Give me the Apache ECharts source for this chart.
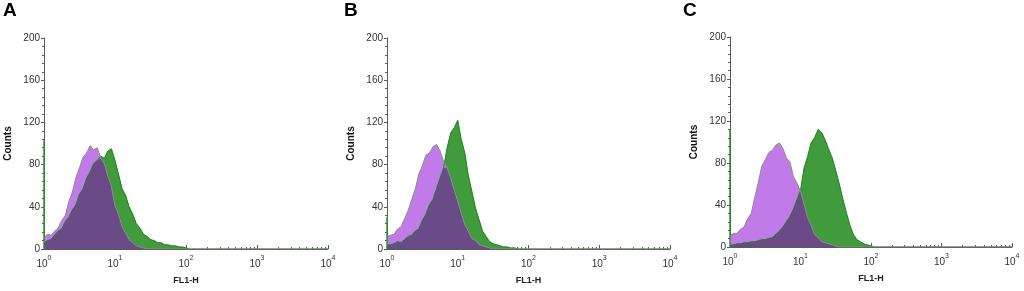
<!DOCTYPE html>
<html>
<head>
<meta charset="utf-8">
<script src="https://cdn.jsdelivr.net/npm/echarts@6/dist/echarts.min.js"></script>
<style>
  html, body { margin: 0; background: #fff; }
  #main { width: 1024px; height: 291px; }
</style>
</head>
<body>
<div id="main"></div>
<script>
// FL1-H bin centres (log spaced), last one closes the histogram at 10^4
const fl1Bins = [1.00, 1.12, 1.26, 1.41, 1.58, 1.78, 2.00, 2.24, 2.51, 2.82, 3.16, 3.55, 3.98, 4.47, 5.01, 5.62, 6.31, 7.08, 7.94, 8.91,
  10.0, 11.2, 12.6, 14.1, 15.8, 17.8, 20.0, 22.4, 25.1, 28.2, 31.6, 35.5, 39.8, 44.7, 50.1, 56.2, 63.1, 70.8, 79.4, 89.1, 100, 112, 126, 10000];

// panel A
const ctrlA = [11, 14, 13, 17, 20, 27, 32, 45, 54, 68, 77, 87, 91, 98, 94, 96, 86, 81, 69, 59, 41, 33, 21, 15, 9, 6, 3, 2, 1, 0,
  0, 0, 0, 0, 0, 0, 0, 0, 0, 0, 0, 0, 0, 0];
const trtA = [6, 8, 9, 13, 17, 19, 26, 30, 37, 42, 52, 57, 67, 73, 81, 84, 88, 86, 93, 95, 84, 71, 57, 51, 40, 33, 24, 20, 14, 12,
  9, 8, 6, 6, 4, 4, 3, 3, 2, 2, 1, 0, 0, 0];
// panel B
const ctrlB = [12, 13, 14, 19, 21, 29, 37, 47, 57, 71, 79, 89, 91, 97, 99, 93, 83, 77, 67, 56, 45, 34, 23, 17, 10, 8, 4, 3, 2, 1,
  0, 0, 0, 0, 0, 0, 0, 0, 0, 0, 0, 0, 0, 0];
const trtB = [4, 4, 5, 7, 6, 9, 12, 13, 17, 19, 27, 33, 42, 47, 57, 67, 77, 96, 110, 115, 122, 104, 91, 70, 55, 39, 28, 17, 12, 7,
  5, 4, 3, 2, 2, 1, 1, 0, 0, 0, 0, 0, 0, 0];
// panel C
const ctrlC = [11, 13, 13, 17, 19, 27, 32, 47, 61, 77, 83, 90, 92, 97, 99, 94, 85, 81, 67, 61, 53, 41, 28, 21, 12, 9, 5, 4, 3, 2,
  1, 0, 0, 0, 0, 0, 0, 0, 0, 0, 0, 0, 0, 0];
const trtC = [2, 2, 3, 3, 4, 4, 5, 5, 6, 7, 7, 8, 9, 12, 15, 19, 24, 29, 36, 45, 54, 75, 86, 99, 104, 112, 109, 102, 93, 85,
  73, 60, 46, 33, 21, 12, 7, 5, 3, 2, 1, 0, 0, 0];

// first-channel pile-up of the treated sample (counts at FL1-H = 10^0)
const trtPileup = [103, 30, 112];

const panels = [
  { tag: 'A', ctrl: ctrlA, trt: trtA, left: 44, width: 284, top: 38, height: 211, tagX: 3 },
  { tag: 'B', ctrl: ctrlB, trt: trtB, left: 387, width: 283, top: 38, height: 211, tagX: 344 },
  { tag: 'C', ctrl: ctrlC, trt: trtC, left: 730, width: 282, top: 37, height: 210, tagX: 683 }
];

// 2..9 in every decade
let minorTicks = [];
[1, 10, 100, 1000].forEach(d => {
  for (let k = 2; k <= 9; k++) minorTicks.push(k * d);
});

const axisColor = '#5a5a5a';
const colTrt = '#3f9b3c';
const colCtrl = '#c17be9';
const colBoth = '#6b4a88';

let grid = [], xAxis = [], yAxis = [], series = [], graphic = [];

panels.forEach((p, i) => {
  grid.push({ left: p.left, width: p.width, top: p.top, height: p.height });

  xAxis.push({
    gridIndex: i, type: 'log', logBase: 10, min: 1, max: 10000,
    name: 'FL1-H', nameLocation: 'middle', nameGap: 27,
    nameTextStyle: { fontFamily: 'Liberation Sans', fontWeight: 'bold', fontSize: 9, color: '#222' },
    axisLine: { lineStyle: { color: axisColor, width: 1 } },
    axisTick: { inside: true, length: 4, lineStyle: { color: axisColor } },
    splitLine: { show: false },
    axisLabel: {
      margin: 6,
      formatter: v => '{b|10}{s|' + Math.round(Math.log10(v)) + '}',
      rich: {
        b: { fontFamily: 'Liberation Sans', fontSize: 10, color: '#333', lineHeight: 14, verticalAlign: 'bottom' },
        s: { fontFamily: 'Liberation Sans', fontSize: 7, color: '#333', lineHeight: 14, verticalAlign: 'top' }
      }
    }
  });
  // minor ticks only
  xAxis.push({
    gridIndex: i, type: 'log', logBase: 10, min: 1, max: 10000, position: 'bottom',
    axisLine: { show: false },
    axisTick: { inside: true, length: 2, customValues: minorTicks, lineStyle: { color: axisColor } },
    axisLabel: { show: false },
    splitLine: { show: false }
  });

  yAxis.push({
    gridIndex: i, type: 'value', min: 0, max: 200, interval: 40,
    name: 'Counts', nameLocation: 'middle', nameGap: 31,
    nameTextStyle: { fontFamily: 'Liberation Sans', fontWeight: 'bold', fontSize: 10, color: '#111' },
    axisLine: { show: true, lineStyle: { color: axisColor, width: 1 } },
    axisTick: { show: true, length: 3, lineStyle: { color: axisColor } },
    minorTick: { show: true, splitNumber: 5, length: 2, lineStyle: { color: axisColor } },
    splitLine: { show: false },
    axisLabel: { fontFamily: 'Liberation Sans', fontSize: 10, color: '#333', margin: 4 }
  });

  const trtData = fl1Bins.map((x, j) => [x, p.trt[j]]);
  const ctrlData = fl1Bins.map((x, j) => [x, p.ctrl[j]]);
  const bothData = fl1Bins.map((x, j) => [x, Math.min(p.trt[j], p.ctrl[j])]);

  const base = { type: 'line', xAxisIndex: i * 2, yAxisIndex: i, symbol: 'none', silent: true };
  series.push(Object.assign({}, base, {
    name: 'treated ' + p.tag, data: trtData,
    lineStyle: { color: '#1f7f1f', width: 1 },
    areaStyle: { color: colTrt, opacity: 1 }
  }));
  series.push(Object.assign({}, base, {
    name: 'control ' + p.tag, data: ctrlData,
    lineStyle: { color: '#8c8c8c', width: 1 },
    areaStyle: { color: colCtrl, opacity: 1 }
  }));
  series.push(Object.assign({}, base, {
    name: 'overlap ' + p.tag, data: bothData,
    lineStyle: { width: 0 },
    areaStyle: { color: colBoth, opacity: 1 },
    // pile-up in the first channel, drawn along the y axis
    markLine: {
      silent: true, symbol: 'none', label: { show: false },
      lineStyle: { color: '#2f8f2a', width: 1.5, type: 'solid' },
      data: [[{ coord: [1, 0] }, { coord: [1, trtPileup[i]] }]]
    }
  }));

  graphic.push({
    type: 'text', left: p.tagX, top: 1,
    style: { text: p.tag, font: 'bold 19px "Liberation Sans"', fill: '#000' }
  });
});

const chart = echarts.init(document.getElementById('main'), null, { renderer: 'canvas' });
chart.setOption({
  backgroundColor: '#fff',
  animation: false,
  grid: grid,
  xAxis: xAxis,
  yAxis: yAxis,
  series: series,
  graphic: graphic
});
</script>
</body>
</html>
